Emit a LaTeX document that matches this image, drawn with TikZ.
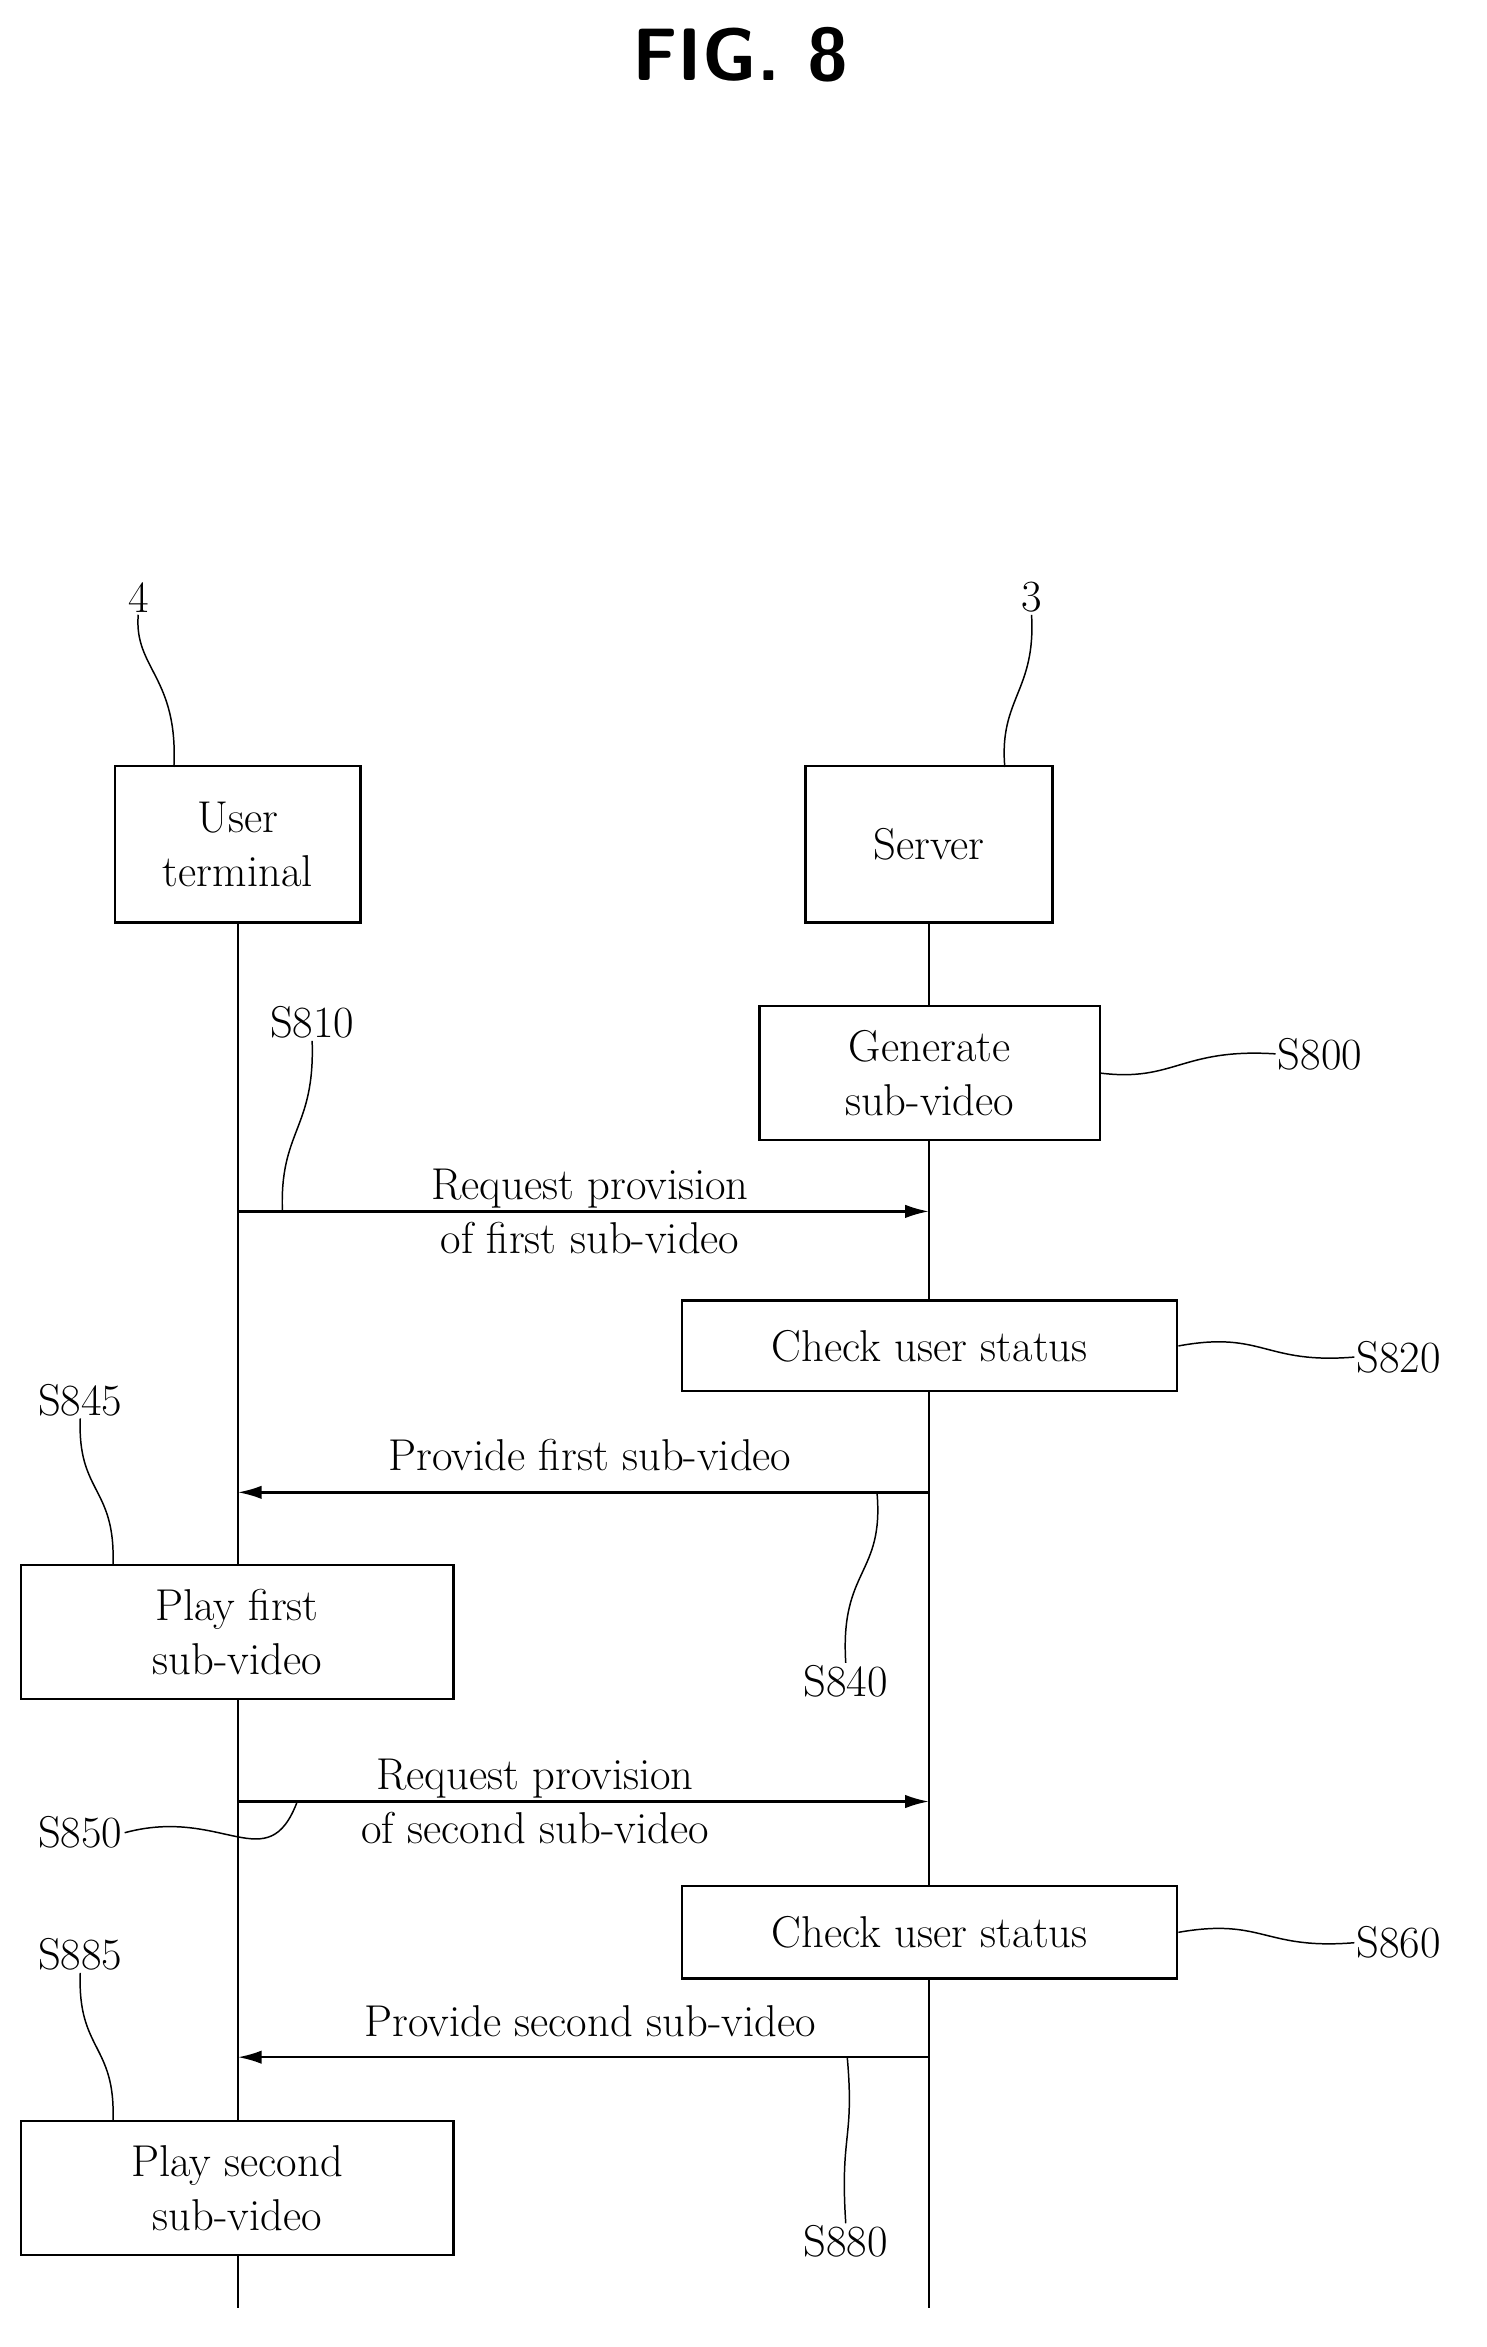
\documentclass[tikz,border=0pt]{standalone}
\usetikzlibrary{arrows.meta}
\tikzset{every picture/.style={line width=1.6pt}}
\tikzset{
  box/.style={draw,line width=1.6pt,align=center,inner sep=0pt,font=\fontsize{30}{36}\selectfont},
  lbl/.style={inner sep=0.75pt,font=\fontsize{30}{36}\selectfont},
  msg/.style={-{Latex[length=16pt,width=9pt]},line width=1.6pt},
  lead/.style={line width=1pt}
}
\begin{document}
\begin{tikzpicture}[x=1pt,y=1pt,yscale=-1,xscale=1]
\useasboundingbox (0,0) rectangle (1000,1579);

% Title
\node[font=\sffamily\bfseries\fontsize{50}{56}\selectfont] (title) at (498,37) {FIG. 8};

% Participants
\node[box,minimum width=165pt,minimum height=105pt] (ut) at (160,568) {User\\terminal};
\node[box,minimum width=166pt,minimum height=105pt] (sv) at (625,568) {Server};
\coordinate (utEnd) at (160,1553);
\coordinate (svEnd) at (625,1553);
\draw (ut.south) -- (utEnd);
\draw (sv.south) -- (svEnd);

\node[lbl] (n4) at (93,402) {4};
\node[lbl] (n3) at (694,402) {3};
\draw[lead] (n4.south) .. controls (90,450) and (120,455) .. (117,516);
\draw[lead] (n3.south) .. controls (697,465) and (672,470) .. (676,516);

% Steps
\node[box,fill=white,minimum width=229pt,minimum height=90pt] (gen) at (625.5,722) {Generate\\sub-video};
\node[lbl] (s800) at (888,709) {S800};
\draw[lead] (gen.east) .. controls (790,728) and (795,705) .. (s800.west);

\node[lbl] (s810) at (210,688) {S810};
\coordinate (m1a) at (160,815);
\coordinate (m1b) at (625,815);
\draw[msg] (m1a) -- (m1b);
\node[lbl,align=center] (t1) at (397,815) {Request provision\\of first sub-video};
\draw[lead] (s810.south) .. controls (212,760) and (188,760) .. (190,815);

\node[box,fill=white,minimum width=333pt,minimum height=61pt] (chk1) at (625.5,905.5) {Check user status};
\node[lbl] (s820) at (941,913) {S820};
\draw[lead] (chk1.east) .. controls (850,895) and (850,918) .. (s820.west);

\coordinate (m2a) at (625,1004);
\coordinate (m2b) at (160,1004);
\draw[msg] (m2a) -- (m2b);
\node[lbl] (t2) at (397,979) {Provide first sub-video};
\node[lbl] (s840) at (569,1131) {S840};
\draw[lead] (590,1004) .. controls (595,1060) and (565,1055) .. (s840.north);

\node[lbl] (s845) at (54,942) {S845};
\node[box,fill=white,minimum width=291pt,minimum height=90pt] (play1) at (159.5,1098) {Play first\\sub-video};
\draw[lead] (s845.south) .. controls (52,1005) and (78,1000) .. (76,1053);

\coordinate (m3a) at (160,1212);
\coordinate (m3b) at (625,1212);
\draw[msg] (m3a) -- (m3b);
\node[lbl,align=center] (t3) at (360,1212) {Request provision\\of second sub-video};
\node[lbl] (s850) at (54,1233) {S850};
\draw[lead] (s850.east) .. controls (150,1215) and (180,1265) .. (200,1212);

\node[box,fill=white,minimum width=333pt,minimum height=62pt] (chk2) at (625.5,1300) {Check user status};
\node[lbl] (s860) at (941,1307) {S860};
\draw[lead] (chk2.east) .. controls (850,1290) and (850,1312) .. (s860.west);

\coordinate (m4a) at (625,1384);
\coordinate (m4b) at (160,1384);
\draw[msg] (m4a) -- (m4b);
\node[lbl] (t4) at (397,1360) {Provide second sub-video};
\node[lbl] (s880) at (569,1508) {S880};
\draw[lead] (570,1384) .. controls (575,1440) and (565,1435) .. (s880.north);

\node[lbl] (s885) at (54,1315) {S885};
\node[box,fill=white,minimum width=291pt,minimum height=90pt] (play2) at (159.5,1472) {Play second\\sub-video};
\draw[lead] (s885.south) .. controls (52,1380) and (78,1375) .. (76,1427);

\end{tikzpicture}
\end{document}
